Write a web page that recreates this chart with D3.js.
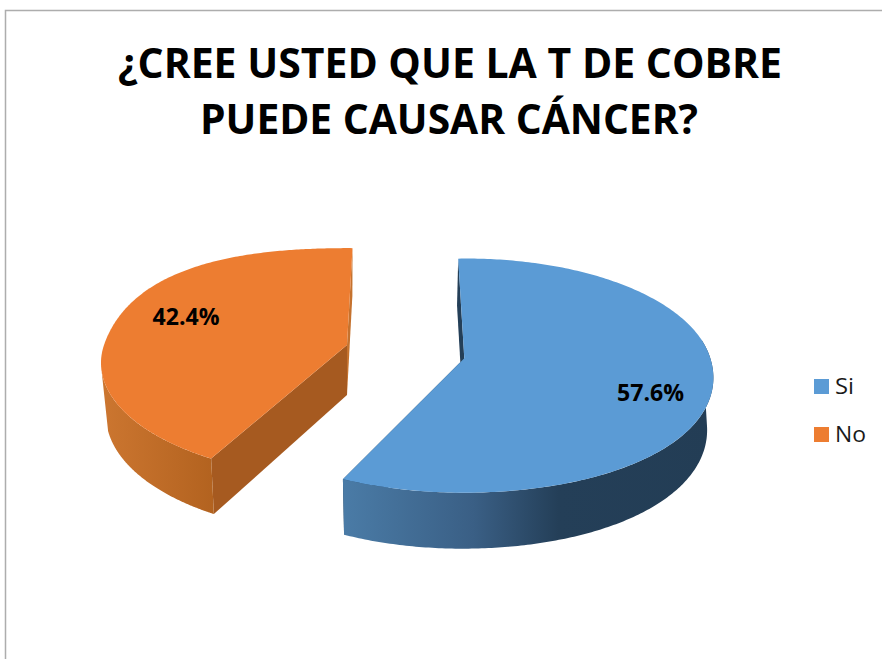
<!DOCTYPE html>
<html>
<head>
<meta charset="utf-8">
<script src="https://cdn.jsdelivr.net/npm/d3@7"></script>
<style>
html,body{margin:0;padding:0;background:#fff;overflow:hidden}
svg{display:block}
text{font-family:"Open Sans","Noto Sans",sans-serif}
</style>
</head>
<body>
<svg id="c" width="882" height="659"></svg>
<script>
const categories = ["Si", "No"];
const values = [57.6, 42.4];
const titleLines = ["¿CREE USTED QUE LA T DE COBRE", "PUEDE CAUSAR CÁNCER?"];

// Projection of each exploded slice (layout only)
const views = [
  {cx:464.3, cy:358.3, ax:246, ay:114.5, k:.148, rot:-2.3, lean:2.5, vx:400, narrow:.98, bulgeBack:0, bulgeFront:.015,
   wallTop:83, wallBot:100, top:"#5B9BD5", cut:"#243F58", grad:[["0%","#4A7BA6"],["35%","#3A5F85"],["58%","#243F58"],["100%","#233D55"]],
   gx:[345,713], label:[650.5,401], labelW:67},
  {cx:347, cy:345, ax:243, ay:112, k:.156, rot:1.5, lean:0, vx:347, narrow:.98, bulgeBack:.045, bulgeFront:0,
   wallTop:258, wallBot:252, top:"#ED7D31", cut:"#A65A20", sliver:"#C5722E", grad:[["0%","#CC7630"],["100%","#B2621F"]],
   gx:[102,216], label:[186,325], labelW:67}
];

const svg = d3.select("#c");
const defs = svg.append("defs");

// Frame
svg.append("path").attr("d","M5.5 659V10.5H882").attr("fill","none").attr("stroke","#ADADAD").attr("stroke-width",1.5);

// Title
const titleSpec = [{x:450,y:77.5,w:664},{x:449,y:134,w:498}];
svg.selectAll("text.title").data(titleLines).join("text").attr("class","title")
  .attr("x",(d,i)=>titleSpec[i].x).attr("y",(d,i)=>titleSpec[i].y)
  .attr("text-anchor","middle").attr("font-size",41).attr("font-weight",700).attr("fill","#000")
  .attr("textLength",(d,i)=>titleSpec[i].w).attr("lengthAdjust","spacingAndGlyphs").text(d=>d);

const arcs = d3.pie().sort(null).startAngle(0).endAngle(2*Math.PI)(values);

function topPt(a, w){
  const t = a + w.rot*Math.PI/180, u = Math.sin(t), v = -Math.cos(t), s = 1/(1-w.k*v);
  const b = 1 + (v<0 ? w.bulgeBack : w.bulgeFront)*Math.pow(2*u*v,2);
  return {x:w.cx + w.ax*u*s*b + w.lean*Math.max(-v,0), y:w.cy + w.ay*v*s*b, v};
}
function botPt(a, w){
  const p = topPt(a,w);
  return {x:w.vx + (p.x-w.vx)*w.narrow, y:p.y + 51.5 + 4.5*p.v};
}
const line = d3.line().x(d=>d.x).y(d=>d.y);
const samples = (a0,a1,n=160)=>d3.range(n+1).map(i=>a0+(a1-a0)*i/n);
const apex = w=>({x:w.cx,y:w.cy});
const apexBot = w=>({x:w.vx+(w.cx-w.vx)*w.narrow,y:w.cy+50});
const rad = Math.PI/180;

const g = svg.append("g");
[1,0].forEach(i=>{
  const d = arcs[i], w = views[i];
  const lg = defs.append("linearGradient").attr("id","wall"+i).attr("gradientUnits","userSpaceOnUse")
    .attr("x1",w.gx[0]).attr("x2",w.gx[1]).attr("y1",0).attr("y2",0);
  w.grad.forEach(s=>lg.append("stop").attr("offset",s[0]).attr("stop-color",s[1]));

  const backAngle = i===0 ? d.startAngle : d.endAngle;
  const frontAngle = i===0 ? d.endAngle : d.startAngle;

  // back cut wall (thin sliver)
  g.append("path").attr("fill",w.sliver||w.cut)
    .attr("d",line([topPt(backAngle,w),botPt(backAngle,w),apexBot(w),apex(w)])+"Z");
  // front cut wall
  g.append("path").attr("fill",w.cut)
    .attr("d",line([topPt(frontAngle,w),botPt(frontAngle,w),apexBot(w),apex(w)])+"Z");
  // outer wall
  const topArc = samples(w.wallTop*rad, frontAngle).map(a=>topPt(a,w));
  const botArc = samples(frontAngle, w.wallBot*rad).map(a=>botPt(a,w));
  g.append("path").attr("fill",`url(#wall${i})`).attr("d",line(topArc.concat(botArc))+"Z");
  // top face
  const rim = samples(d.startAngle,d.endAngle,240).map(a=>topPt(a,w));
  g.append("path").attr("fill",w.top).attr("d",line([apex(w)].concat(rim))+"Z");
  // value label
  g.append("text").attr("x",w.label[0]).attr("y",w.label[1]).attr("text-anchor","middle")
    .attr("font-size",22.5).attr("font-weight",700).attr("fill","#000")
    .attr("textLength",w.labelW).attr("lengthAdjust","spacingAndGlyphs")
    .text(d3.format(".1f")(values[i])+"%");
});

// Legend
const legendY = d3.scalePoint().domain(categories).range([379,427]);
const legendColor = d3.scaleOrdinal().domain(categories).range(views.map(v=>v.top));
const lw = {Si:19, No:31};
const leg = svg.selectAll("g.leg").data(categories).join("g").attr("class","leg");
leg.append("rect").attr("x",814).attr("y",d=>legendY(d)).attr("width",15).attr("height",15).attr("fill",d=>legendColor(d));
leg.append("text").attr("x",835).attr("y",d=>legendY(d)+15).attr("font-size",22).attr("fill","#1a1a1a")
  .attr("textLength",d=>lw[d]).attr("lengthAdjust","spacingAndGlyphs").text(d=>d);
</script>
</body>
</html>
